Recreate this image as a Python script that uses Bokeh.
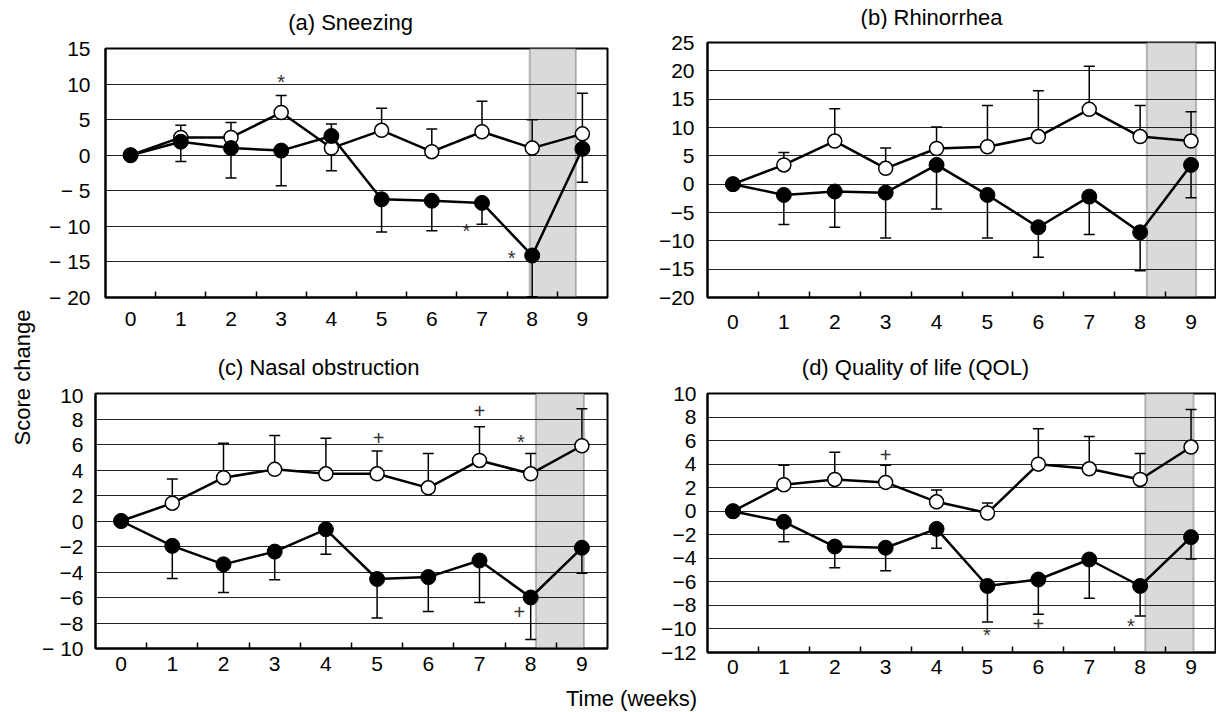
import math
from bokeh.plotting import figure
from bokeh.models import (Range1d, FixedTicker, BoxAnnotation, Whisker, TeeHead,
                          ColumnDataSource, Label)
from bokeh.layouts import column, row
from bokeh.embed import file_html
from bokeh.resources import INLINE
from bokeh.core.properties import value

FONT = "Liberation Sans"

weeks = list(range(10))
week_labels = [str(w) for w in weeks]

# ---------------- (a) Sneezing ----------------
a_title = "(a) Sneezing"
a_open = [0, 2.5, 2.5, 6.0, 1.0, 3.5, 0.5, 3.3, 1.0, 3.0]
a_open_upper = [0, 4.2, 4.6, 8.4, 4.4, 6.6, 3.7, 7.6, 5.0, 8.7]
a_closed = [0, 1.9, 1.0, 0.65, 2.7, -6.2, -6.4, -6.7, -14.1, 0.9]
a_closed_lower = [0, -0.9, -3.2, -4.3, -2.2, -10.8, -10.6, -9.7, -19.9, -3.8]
a_yticks = [-20, -15, -10, -5, 0, 5, 10, 15]
a_ytick_labels = ["\u2212 20", "\u2212 15", "\u2212 10", "\u2212 5", "0", "5", "10", "15"]
a_marks = ["*", "*", "*"]
a_mark_x = [3.0, 6.69, 7.59]
a_mark_y = [10.3, -10.6, -14.4]
a_shade = (7.95, 8.87)

# ---------------- (b) Rhinorrhea ----------------
b_title = "(b) Rhinorrhea"
b_open = [0, 3.4, 7.6, 2.8, 6.3, 6.6, 8.4, 13.2, 8.4, 7.6]
b_open_upper = [0, 5.6, 13.3, 6.4, 10.1, 13.9, 16.5, 20.8, 13.9, 12.8]
b_closed = [0, -1.9, -1.3, -1.5, 3.4, -1.9, -7.6, -2.2, -8.5, 3.4]
b_closed_lower = [0, -7.1, -7.6, -9.5, -4.4, -9.5, -12.9, -8.9, -15.3, -2.4]
b_yticks = [-20, -15, -10, -5, 0, 5, 10, 15, 20, 25]
b_ytick_labels = ["\u221220", "\u221215", "\u221210", "\u22125", "0", "5", "10", "15", "20", "25"]
b_marks = []
b_mark_x = []
b_mark_y = []
b_shade = (8.13, 9.1)

# ---------------- (c) Nasal obstruction ----------------
c_title = "(c) Nasal obstruction"
c_open = [0, 1.4, 3.4, 4.05, 3.7, 3.7, 2.6, 4.75, 3.7, 5.9]
c_open_upper = [0, 3.3, 6.1, 6.7, 6.5, 5.5, 5.3, 7.4, 5.3, 8.8]
c_closed = [0, -1.95, -3.4, -2.4, -0.65, -4.55, -4.4, -3.1, -6.0, -2.1]
c_closed_lower = [0, -4.5, -5.6, -4.6, -2.6, -7.6, -7.1, -6.4, -9.3, -4.1]
c_yticks = [-10, -8, -6, -4, -2, 0, 2, 4, 6, 8, 10]
c_ytick_labels = ["\u2212 10", "\u22128", "\u22126", "\u22124", "\u22122", "0", "2", "4", "6", "8", "10"]
c_marks = ["+", "+", "*", "+"]
c_mark_x = [5.03, 7.0, 7.81, 7.78]
c_mark_y = [6.5, 8.6, 6.2, -7.15]
c_shade = (8.1, 9.04)

# ---------------- (d) Quality of life (QOL) ----------------
d_title = "(d) Quality of life (QOL)"
d_open = [0, 2.25, 2.7, 2.45, 0.8, -0.15, 4.0, 3.6, 2.7, 5.45]
d_open_upper = [0, 3.9, 5.0, 3.9, 1.8, 0.7, 7.0, 6.35, 4.9, 8.65]
d_closed = [0, -0.9, -3.0, -3.1, -1.5, -6.35, -5.8, -4.1, -6.35, -2.2]
d_closed_lower = [0, -2.6, -4.8, -5.05, -3.15, -9.4, -8.75, -7.4, -8.9, -4.05]
d_yticks = [-12, -10, -8, -6, -4, -2, 0, 2, 4, 6, 8, 10]
d_ytick_labels = ["\u221212", "\u221210", "\u22128", "\u22126", "\u22124", "\u22122", "0", "2", "4", "6", "8", "10"]
d_marks = ["+", "*", "+", "*"]
d_mark_x = [3.0, 4.99, 6.0, 7.82]
d_mark_y = [4.8, -10.5, -9.6, -9.75]
d_shade = (8.1, 9.05)

y_label = "Score change"
x_label = "Time (weeks)"


def text_strip(width, height, items, bl=0, br=0, x0=0, angle=0.0):
    """A blank canvas holding free text; x is given in page pixels."""
    f = figure(width=width, height=height, output_backend="svg", toolbar_location=None,
               x_range=Range1d(x0 + bl, x0 + width - br), y_range=Range1d(height, 0),
               min_border=0, min_border_left=bl, min_border_right=br,
               x_axis_location=None, y_axis_location=None)
    f.outline_line_color = None
    f.grid.visible = False
    for (tx, ty, txt, size) in items:
        f.add_layout(Label(x=tx, y=ty, text=txt, angle=angle, text_font=FONT,
                           text_font_size=size, text_align="center",
                           text_baseline="middle", text_color="black"))
    return f


def panel(opn, opn_up, cls, cls_lo, yticks, ylabels, marks, mx, my, shade,
          width, height, bl, br, bt, bb, xstandoff, ystandoff):
    ymin, ymax = yticks[0], yticks[-1]
    p = figure(width=width, height=height, output_backend="svg", toolbar_location=None,
               x_range=Range1d(-0.5, 9.5), y_range=Range1d(ymin, ymax),
               min_border_left=bl, min_border_right=br, min_border_top=bt,
               min_border_bottom=bb, background_fill_color="white",
               border_fill_color="white")
    p.outline_line_color = "black"
    p.outline_line_width = 2

    p.add_layout(BoxAnnotation(left=shade[0], right=shade[1], bottom=ymin, top=ymax,
                               fill_color="#d9dadc", fill_alpha=1.0,
                               line_color="#333333", line_width=2, level="image"))

    xa = p.xaxis[0]
    xa.ticker = FixedTicker(ticks=weeks, minor_ticks=[w + 0.5 for w in weeks[:-1]])
    xa.major_label_overrides = {w: l for w, l in zip(weeks, week_labels)}
    xa.major_tick_in = 0
    xa.major_tick_out = 0
    xa.minor_tick_in = 6
    xa.minor_tick_out = 0
    xa.minor_tick_line_width = 1.5
    xa.minor_tick_line_color = "black"
    xa.axis_line_width = 2
    xa.major_label_text_font = FONT
    xa.major_label_text_font_size = "21px"
    xa.major_label_text_color = "black"
    xa.major_label_standoff = xstandoff

    ya = p.yaxis[0]
    ya.ticker = FixedTicker(ticks=yticks, minor_ticks=[])
    ya.major_label_overrides = {t: l for t, l in zip(yticks, ylabels)}
    ya.major_tick_in = 0
    ya.major_tick_out = 0
    ya.minor_tick_in = 0
    ya.minor_tick_out = 0
    ya.axis_line_width = 2
    ya.major_label_text_font = FONT
    ya.major_label_text_font_size = "21px"
    ya.major_label_text_color = "black"
    ya.major_label_standoff = ystandoff

    p.xgrid.visible = False
    p.ygrid.ticker = FixedTicker(ticks=yticks, minor_ticks=[])
    p.ygrid.grid_line_color = "#222222"
    p.ygrid.grid_line_width = 1.2

    idx = [i for i in range(len(weeks)) if i > 0]
    so = ColumnDataSource(dict(x=[weeks[i] for i in idx], lo=[opn[i] for i in idx],
                               up=[opn_up[i] for i in idx]))
    sc = ColumnDataSource(dict(x=[weeks[i] for i in idx], lo=[cls_lo[i] for i in idx],
                               up=[cls[i] for i in idx]))
    p.add_layout(Whisker(base="x", lower="lo", upper="up", source=so, dimension="height",
                         line_color="black", line_width=1.5, level="underlay",
                         lower_head=None,
                         upper_head=TeeHead(size=11, line_width=1.5, line_color="black")))
    p.add_layout(Whisker(base="x", lower="lo", upper="up", source=sc, dimension="height",
                         line_color="black", line_width=1.5, level="underlay",
                         upper_head=None,
                         lower_head=TeeHead(size=11, line_width=1.5, line_color="black")))

    p.line(weeks, opn, line_color="black", line_width=2.5)
    p.line(weeks, cls, line_color="black", line_width=2.5)
    p.scatter(weeks, opn, marker="circle", size=14, fill_color="white",
              line_color="black", line_width=1.5)
    p.scatter(weeks, cls, marker="circle", size=15, fill_color="black",
              line_color="black", line_width=1)

    if marks:
        p.text(x=mx, y=my, text=marks, text_font=value(FONT), text_font_size="20px",
               text_align="center", text_baseline="middle", text_color="#333333")
    return p


pa = panel(a_open, a_open_upper, a_closed, a_closed_lower, a_yticks, a_ytick_labels,
           a_marks, a_mark_x, a_mark_y, a_shade, 589, 318, 67, 20, 13, 56, 14, 15)
pb = panel(b_open, b_open_upper, b_closed, b_closed_lower, b_yticks, b_ytick_labels,
           b_marks, b_mark_x, b_mark_y, b_shade, 589, 324, 80, 0, 13, 56, 17, 13)
pc = panel(c_open, c_open_upper, c_closed, c_closed_lower, c_yticks, c_ytick_labels,
           c_marks, c_mark_x, c_mark_y, c_shade, 589, 302, 57, 20, 10, 37, 8, 12)
pd_ = panel(d_open, d_open_upper, d_closed, d_closed_lower, d_yticks, d_ytick_labels,
            d_marks, d_mark_x, d_mark_y, d_shade, 589, 302, 80, 0, 10, 33, 7, 11)

ta = text_strip(589, 35, [(350, 22, a_title, "22px")], bl=67, br=20, x0=38)
tb = text_strip(589, 29, [(931, 16.5, b_title, "22px")], bl=80, br=0, x0=627)
tc = text_strip(589, 30, [(318, 14, c_title, "22px")], bl=57, br=20, x0=38)
td = text_strip(589, 30, [(915, 14, d_title, "22px")], bl=80, br=0, x0=627)
xlab = text_strip(1178, 26, [(631, 13, x_label, "22px")], x0=38)
ylab = text_strip(38, 711, [(22, 377, y_label, "22px")], angle=math.pi / 2)

right = column(row(column(ta, pa), column(tb, pb)),
               row(column(tc, pc), column(td, pd_)),
               xlab)
layout = row(ylab, right)

with open("out.html", "w") as f:
    f.write(file_html(layout, INLINE))
